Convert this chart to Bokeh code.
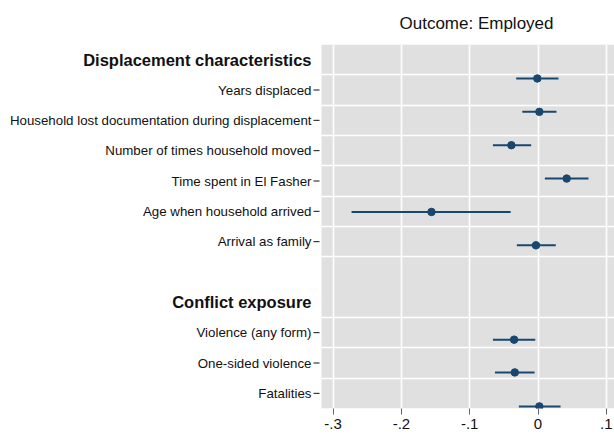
from bokeh.plotting import figure
from bokeh.models import Range1d, FixedTicker, BoxAnnotation, ColumnDataSource
from bokeh.core.properties import value
from bokeh.embed import file_html
from bokeh.resources import INLINE

# ---- data ----
labels = [
    "Years displaced",
    "Household lost documentation during displacement",
    "Number of times household moved",
    "Time spent in El Fasher",
    "Age when household arrived",
    "Arrival as family",
    "Violence (any form)",
    "One-sided violence",
    "Fatalities",
]
label_slots = [1, 2, 3, 4, 5, 6, 9, 10, 11]
headers = ["Displacement characteristics", "Conflict exposure"]
header_slots = [0, 8]

coef = [-0.001, 0.002, -0.039, 0.042, -0.156, -0.003, -0.035, -0.034, 0.002]
ci_low = [-0.032, -0.023, -0.066, 0.010, -0.273, -0.031, -0.066, -0.063, -0.028]
ci_high = [0.030, 0.027, -0.010, 0.074, -0.040, 0.026, -0.004, -0.005, 0.033]
# vertical positions of the markers as they appear in the chart (slot units)
row_pos = [0.62, 1.72, 2.82, 3.92, 5.02, 6.12, 9.23, 10.31, 11.43]

x_ticks = [-0.3, -0.2, -0.1, 0.0, 0.1]
x_tick_labels = ["-.3", "-.2", "-.1", "0", ".1"]
grid_rows = [0.5, 1.5, 2.5, 3.5, 4.5, 5.5, 6.5, 8.5, 9.5, 10.5]

# plot-region limits in data units
X_LO, X_HI = -0.317, 0.112
X_START = -0.787

FONT = "Liberation Sans"
NAVY = "#1a476f"
TXT = "#111111"

W, H = 614, 440
p = figure(width=W, height=H, output_backend="svg", toolbar_location=None,
           x_range=Range1d(X_START, X_HI), y_range=Range1d(11.5, -0.5),
           title="Outcome: Employed",
           min_border_left=0, min_border_right=0, min_border_top=44,
           min_border_bottom=32)
px = (X_HI - X_START) / W  # one pixel in data units

p.background_fill_color = "white"
p.border_fill_color = "white"
p.outline_line_color = None

p.title.text_font = FONT
p.title.text_font_size = "17px"
p.title.text_font_style = "normal"
p.title.align = "left"
p.title.offset = 399
p.title.text_color = TXT
p.title.standoff = 23

# gray plot region
p.add_layout(BoxAnnotation(left=X_LO, fill_color="#e0e0e0", fill_alpha=1.0,
                           line_color=None, level="image"))

# x axis
xa = p.xaxis[0]
xa.ticker = FixedTicker(ticks=x_ticks)
xa.major_label_overrides = {t: l for t, l in zip(x_ticks, x_tick_labels)}
xa.axis_line_color = None
xa.major_tick_in = 0
xa.major_tick_out = 6
xa.major_tick_line_color = "#666666"
xa.minor_tick_line_color = None
xa.major_label_text_font = FONT
xa.major_label_text_font_size = "15px"
xa.major_label_text_color = TXT
xa.major_label_standoff = 4

# hide native y axis; labels drawn as text
p.yaxis.visible = False

# grids
p.xgrid.ticker = FixedTicker(ticks=x_ticks)
p.xgrid.grid_line_color = "white"
p.xgrid.grid_line_width = 1.6
p.ygrid.ticker = FixedTicker(ticks=grid_rows)
p.ygrid.grid_line_color = "white"
p.ygrid.grid_line_width = 1.6
p.ygrid.bounds = (X_LO, X_HI)

# row labels and tick marks
lab_src = ColumnDataSource(dict(y=label_slots, text=labels,
                                x=[X_LO] * len(labels),
                                t0=[X_LO - 8 * px] * len(labels),
                                t1=[X_LO - 2 * px] * len(labels)))
p.text(x="x", y="y", text="text", source=lab_src, x_offset=-10,
       text_align="right", text_baseline="middle",
       text_font=value(FONT), text_font_size="13.3px", text_color=TXT)
p.segment(x0="t0", x1="t1", y0="y", y1="y", source=lab_src,
          line_color=TXT, line_width=1)

hdr_src = ColumnDataSource(dict(y=header_slots, text=headers,
                                x=[X_LO] * len(headers)))
p.text(x="x", y="y", text="text", source=hdr_src, x_offset=-10,
       text_align="right", text_baseline="middle",
       text_font=value(FONT), text_font_size="16.5px",
       text_font_style="bold", text_color=TXT)

# coefficients
src = ColumnDataSource(dict(coef=coef, lo=ci_low, hi=ci_high, y=row_pos))
p.segment(x0="lo", x1="hi", y0="y", y1="y", source=src, line_color=NAVY, line_width=2)
p.scatter(x="coef", y="y", source=src, size=7.5, fill_color=NAVY, line_color=NAVY)

open("out.html", "w").write(file_html(p, INLINE))
